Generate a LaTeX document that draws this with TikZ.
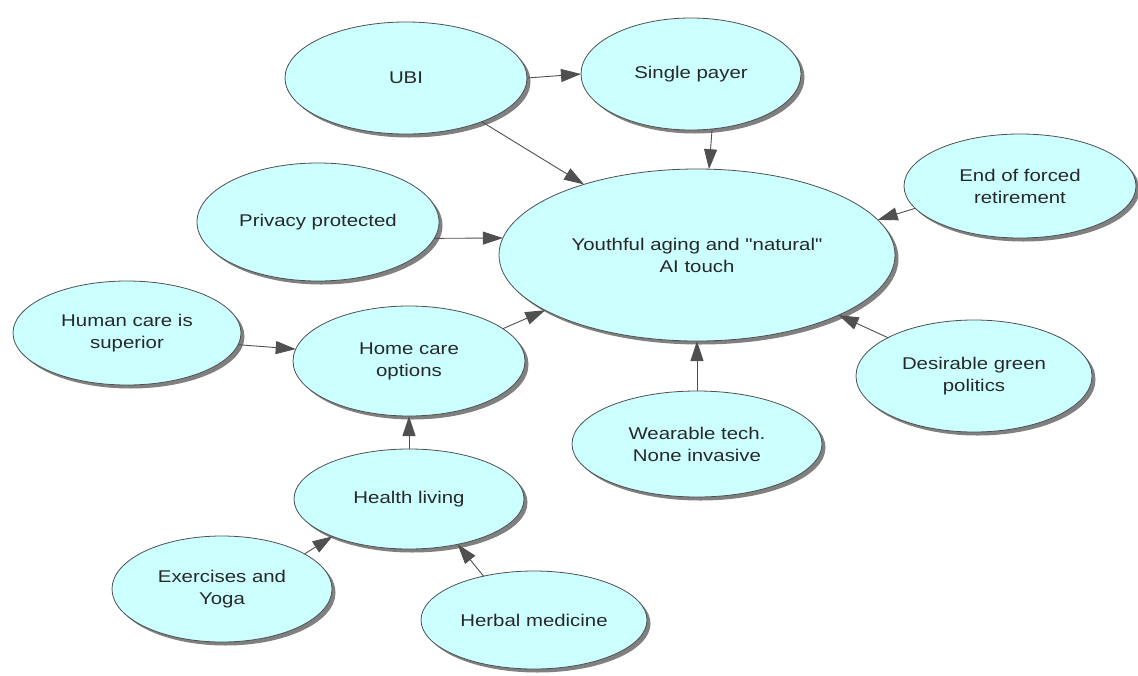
\documentclass[tikz,border=0pt]{standalone}
\usepackage{fontspec}
\setmainfont{Liberation Sans}[FakeStretch=1.2, Ligatures=TeXOff]
\usetikzlibrary{shapes.geometric,arrows.meta,shadows}
\definecolor{bubble}{RGB}{204,255,255}
\definecolor{rim}{RGB}{80,80,80}
\definecolor{linkgray}{RGB}{80,80,80}
\definecolor{ink}{RGB}{40,40,40}
\begin{document}
\begin{tikzpicture}[x=1pt,y=-1pt,
  idea/.style={ellipse, draw=rim, line width=0.8pt, fill=bubble,
    inner sep=0pt, outer sep=0pt, align=center, text=ink,
    font=\fontsize{17}{22}\selectfont,
    drop shadow={shadow xshift=3.5pt, shadow yshift=-3.5pt,
      fill=black!50, opacity=1}},
  link/.style={draw=linkgray, line width=0.9pt,
    -{Triangle[length=20pt,width=13pt]}}]
\useasboundingbox (0,0) rectangle (1138,675);

% concept bubbles
\node[idea, minimum width=242pt, minimum height=112pt] (ubi) at (406,78) {UBI};
\node[idea, minimum width=220pt, minimum height=112pt] (single) at (691,74) {Single payer};
\node[idea, minimum width=396pt, minimum height=172pt] (youth) at (697,255) {Youthful aging and "natural"\\AI touch};
\node[idea, minimum width=232pt, minimum height=104pt] (retire) at (1020,186) {End of forced\\retirement};
\node[idea, minimum width=242pt, minimum height=118pt] (privacy) at (318,222) {Privacy protected};
\node[idea, minimum width=228pt, minimum height=104pt] (human) at (127,333) {Human care is\\superior};
\node[idea, minimum width=232pt, minimum height=110pt] (home) at (409,361) {Home care\\options};
\node[idea, minimum width=236pt, minimum height=112pt] (green) at (974,376) {Desirable green\\politics};
\node[idea, minimum width=250pt, minimum height=106pt] (wear) at (697,444) {Wearable tech.\\None invasive};
\node[idea, minimum width=230pt, minimum height=100pt] (health) at (409,499) {Health living};
\node[idea, minimum width=220pt, minimum height=106pt] (exer) at (222,589) {Exercises and\\Yoga};
\node[idea, minimum width=226pt, minimum height=98pt] (herbal) at (534,620) {Herbal medicine};

% influences
\draw[link] (ubi.0) -- (single.180);
\draw[link] (ubi.-30.6) -- (youth.148);
\draw[link] (single.-69.4) -- (youth.82.9);
\draw[link] (retire.192.6) -- (youth.11.9);
\draw[link] (green.156.3) -- (youth.-23.4);
\draw[link] (wear.90) -- (youth.-90);
\draw[link] (privacy.-8.7) -- (youth.175.3);
\draw[link] (home.19.5) -- (youth.200.3);
\draw[link] (human.-6) -- (home.174.2);
\draw[link] (health.90) -- (home.-90);
\draw[link] (exer.23.5) -- (health.206.6);
\draw[link] (herbal.139) -- (health.-43.9);
\end{tikzpicture}
\end{document}
